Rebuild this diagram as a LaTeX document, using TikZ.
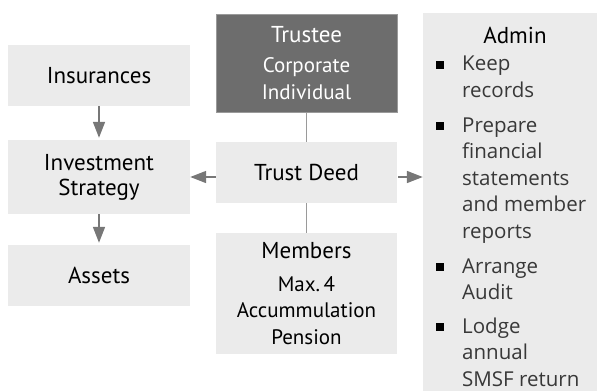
\documentclass[tikz,border=0pt]{standalone}
\usepackage{fontspec}
\setmainfont{PT Sans}
\newfontfamily\listfont{Open Sans}
\usetikzlibrary{arrows.meta}
\definecolor{boxgray}{HTML}{EBEBEB}
\definecolor{darkbox}{HTML}{6D6D6D}
\definecolor{arrowgray}{HTML}{777777}
\definecolor{linegray}{HTML}{9A9A9A}
\tikzset{
  box/.style={fill=boxgray, draw=none, inner sep=0pt, align=center,
    font=\fontsize{23}{25}\selectfont, text=black},
  subbox/.style={box, font=\fontsize{21}{26.5}\selectfont},
  darkboxstyle/.style={fill=darkbox, draw=linegray, line width=0.6pt, inner sep=0pt, align=center,
    text=white, font=\fontsize{21}{27}\selectfont},
  arr/.style={draw=arrowgray, line width=1.6pt, -{Triangle[length=16pt,width=12pt]}},
  conn/.style={draw=linegray, line width=1.4pt},
  listitem/.style={anchor=base west, align=left, inner sep=0pt,
    font=\listfont\fontsize{20.5}{26.5}\selectfont, text=black!78},
  bulletsq/.style={fill=black, inner sep=0pt, minimum size=7.5pt},
}
\begin{document}
\begin{tikzpicture}[x=1pt,y=-1pt]
\useasboundingbox (0,0) rectangle (597,391);
% left column
\node[box, minimum width=182pt, minimum height=61pt] (ins) at (99,75.5) {Insurances};
\node[box, minimum width=182pt, minimum height=74pt] (inv) at (99,177) {Investment\\Strategy};
\node[box, minimum width=182pt, minimum height=61pt] (ast) at (99,275.5) {Assets};
% middle column
\node[darkboxstyle, minimum width=181pt, minimum height=98pt] (trustee) at (306.5,63)
  {{\fontsize{23}{27}\selectfont Trustee}\\[3pt]Corporate\\Individual};
\node[box, minimum width=181pt, minimum height=61pt] (deed) at (306.5,172.5) {Trust Deed};
\node[subbox, minimum width=181pt, minimum height=121pt] (mem) at (306.5,293.5)
  {{\fontsize{23}{26.5}\selectfont Members}\\[6pt]Max.\,4\\Accummulation\\Pension};
% admin column
\node[fill=boxgray, inner sep=0pt, minimum width=174pt, minimum height=378pt] (admin) at (510,202) {};
\node[anchor=base, inner sep=0pt, font=\fontsize{23}{25}\selectfont] (admintitle) at (515,43) {Admin};
\node[listitem] (i1) at (462,97) {Keep\\records};
\node[listitem] (i2) at (462,238) {Prepare\\financial\\statements\\and member\\reports};
\node[listitem] (i3) at (462,299.5) {Arrange\\Audit};
\node[listitem] (i4) at (462,386) {Lodge\\annual\\SMSF return};
\node[bulletsq] (b1) at (440,65) {};
\node[bulletsq] (b2) at (440,126) {};
\node[bulletsq] (b3) at (440,267) {};
\node[bulletsq] (b4) at (440,327) {};
% connectors
\draw[arr, shorten >=2pt] (ins.south) -- (inv.north);
\draw[arr, shorten >=2pt] (inv.south) -- (ast.north);
\coordinate (dl) at ([yshift=-4.5pt]deed.west);
\coordinate (dr) at ([yshift=-4.5pt]deed.east);
\draw[arr] (dl) -- (dl -| inv.east);
\draw[arr, shorten <=1pt] (dr) -- (dr -| admin.west);
\draw[conn] (trustee.south) -- (deed.north);
\draw[conn] (deed.south) -- (mem.north);
\end{tikzpicture}
\end{document}
